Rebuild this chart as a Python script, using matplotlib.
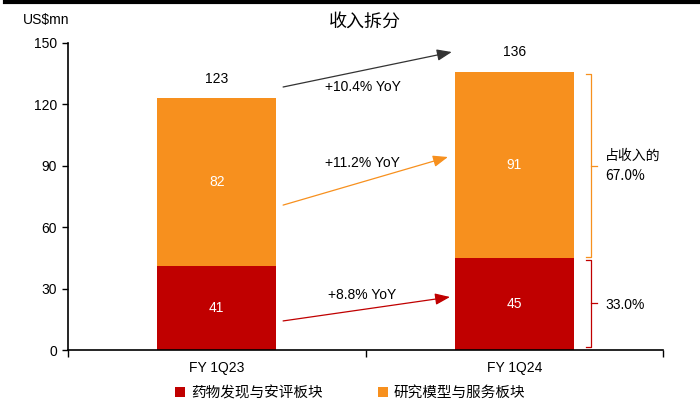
import matplotlib.pyplot as plt
from matplotlib.lines import Line2D
from matplotlib.patches import Patch

plt.rcParams['font.family'] = ['Liberation Sans', 'Noto Sans CJK SC', 'DejaVu Sans']

# === Data ===
quarters = ['FY 1Q23', 'FY 1Q24']
discovery = [41, 45]          # 药物发现与安评板块
models = [82, 91]             # 研究模型与服务板块
totals = [123, 136]
yoy_labels = ['+10.4% YoY', '+11.2% YoY', '+8.8% YoY']
share_labels = ['占收入的\n67.0%', '33.0%']
series_names = ['药物发现与安评板块', '研究模型与服务板块']

red = '#C00000'
orange = '#F7901E'
cjk = ['Noto Sans CJK SC', 'DejaVu Sans']

fig = plt.figure(figsize=(7.0, 4.08), dpi=100)
ax = fig.add_axes([68 / 700, 58 / 408, 595 / 700, 307 / 408])

x = list(range(len(quarters)))
ax.bar(x, discovery, width=0.4, color=red)
ax.bar(x, models, width=0.4, bottom=discovery, color=orange)

for i in x:
    ax.text(i, discovery[i] / 2, str(discovery[i]), ha='center', va='center', color='white', fontsize=10)
    ax.text(i, discovery[i] + models[i] / 2, str(models[i]), ha='center', va='center', color='white', fontsize=10)
    ax.text(i, totals[i] + 6, str(totals[i]), ha='center', va='bottom', fontsize=10)

ax.set_xlim(-0.5, 1.5)
ax.set_ylim(0, 150)
ax.set_yticks([0, 30, 60, 90, 120, 150])
ax.tick_params(axis='y', labelsize=10, length=4, width=1, direction='out', pad=4)
ax.set_xticks(x)
ax.set_xticklabels(quarters, fontsize=10)
ax.tick_params(axis='x', length=0, pad=8)
ax.set_xticks([-0.5, 0.5, 1.5], minor=True)
ax.tick_params(axis='x', which='minor', length=5, width=1, direction='out')
for s in ['top', 'right']:
    ax.spines[s].set_visible(False)
ax.spines['left'].set_linewidth(1.2)
ax.spines['bottom'].set_linewidth(1.2)

# === YoY arrows ===
arrows = [
    ((0.223, 128.5), (0.79, 145.6), '#333333', (0.49, 128.5)),
    ((0.223, 70.8), (0.777, 94.3), orange, (0.49, 91.5)),
    ((0.223, 14.2), (0.784, 25.9), red, (0.49, 27)),
]
for (start, end, col, tpos), lab in zip(arrows, yoy_labels):
    ax.annotate('', xy=end, xytext=start,
                arrowprops=dict(arrowstyle='-|>,head_length=0.9,head_width=0.35', color=col, lw=0.9,
                                shrinkA=0, shrinkB=0))
    ax.text(tpos[0], tpos[1], lab, ha='center', va='center', fontsize=10)

# === Share brackets ===
def bracket(ax, y0, y1, col):
    xb = 1.258
    ax.plot([xb - 0.018, xb, xb, xb - 0.018], [y1, y1, y0, y0], color=col, lw=0.9, clip_on=False)
    ym = (y0 + y1) / 2
    ax.plot([xb, xb + 0.02], [ym, ym], color=col, lw=0.9, clip_on=False)

bracket(ax, 45.4, 134.8, orange)
bracket(ax, 1.5, 44.0, red)
ax.text(1.305, 90, share_labels[0], ha='left', va='center', fontsize=10, family=cjk, linespacing=1.5)
ax.text(1.305, 22, share_labels[1], ha='left', va='center', fontsize=10)

# === Title, unit, top rule ===
fig.text(365 / 700, 1 - 22 / 408, '收入拆分', ha='center', va='center', fontsize=13, family=cjk)
fig.text(23 / 700, 1 - 20 / 408, 'US$mn', ha='left', va='center', fontsize=10)
fig.add_artist(Line2D([5 / 700, 1], [1 - 1.5 / 408, 1 - 1.5 / 408], color='black', lw=3))

# === Legend ===
handles = [Patch(facecolor=red), Patch(facecolor=orange)]
fig.legend(handles, series_names, loc='center', bbox_to_anchor=(350 / 700, 1 - 393 / 408), ncol=2,
           frameon=False, prop={'family': cjk, 'size': 10.5}, handlelength=0.7, handleheight=0.7,
           handletextpad=0.4, columnspacing=3.8)

fig.savefig('out.png', dpi=100)
